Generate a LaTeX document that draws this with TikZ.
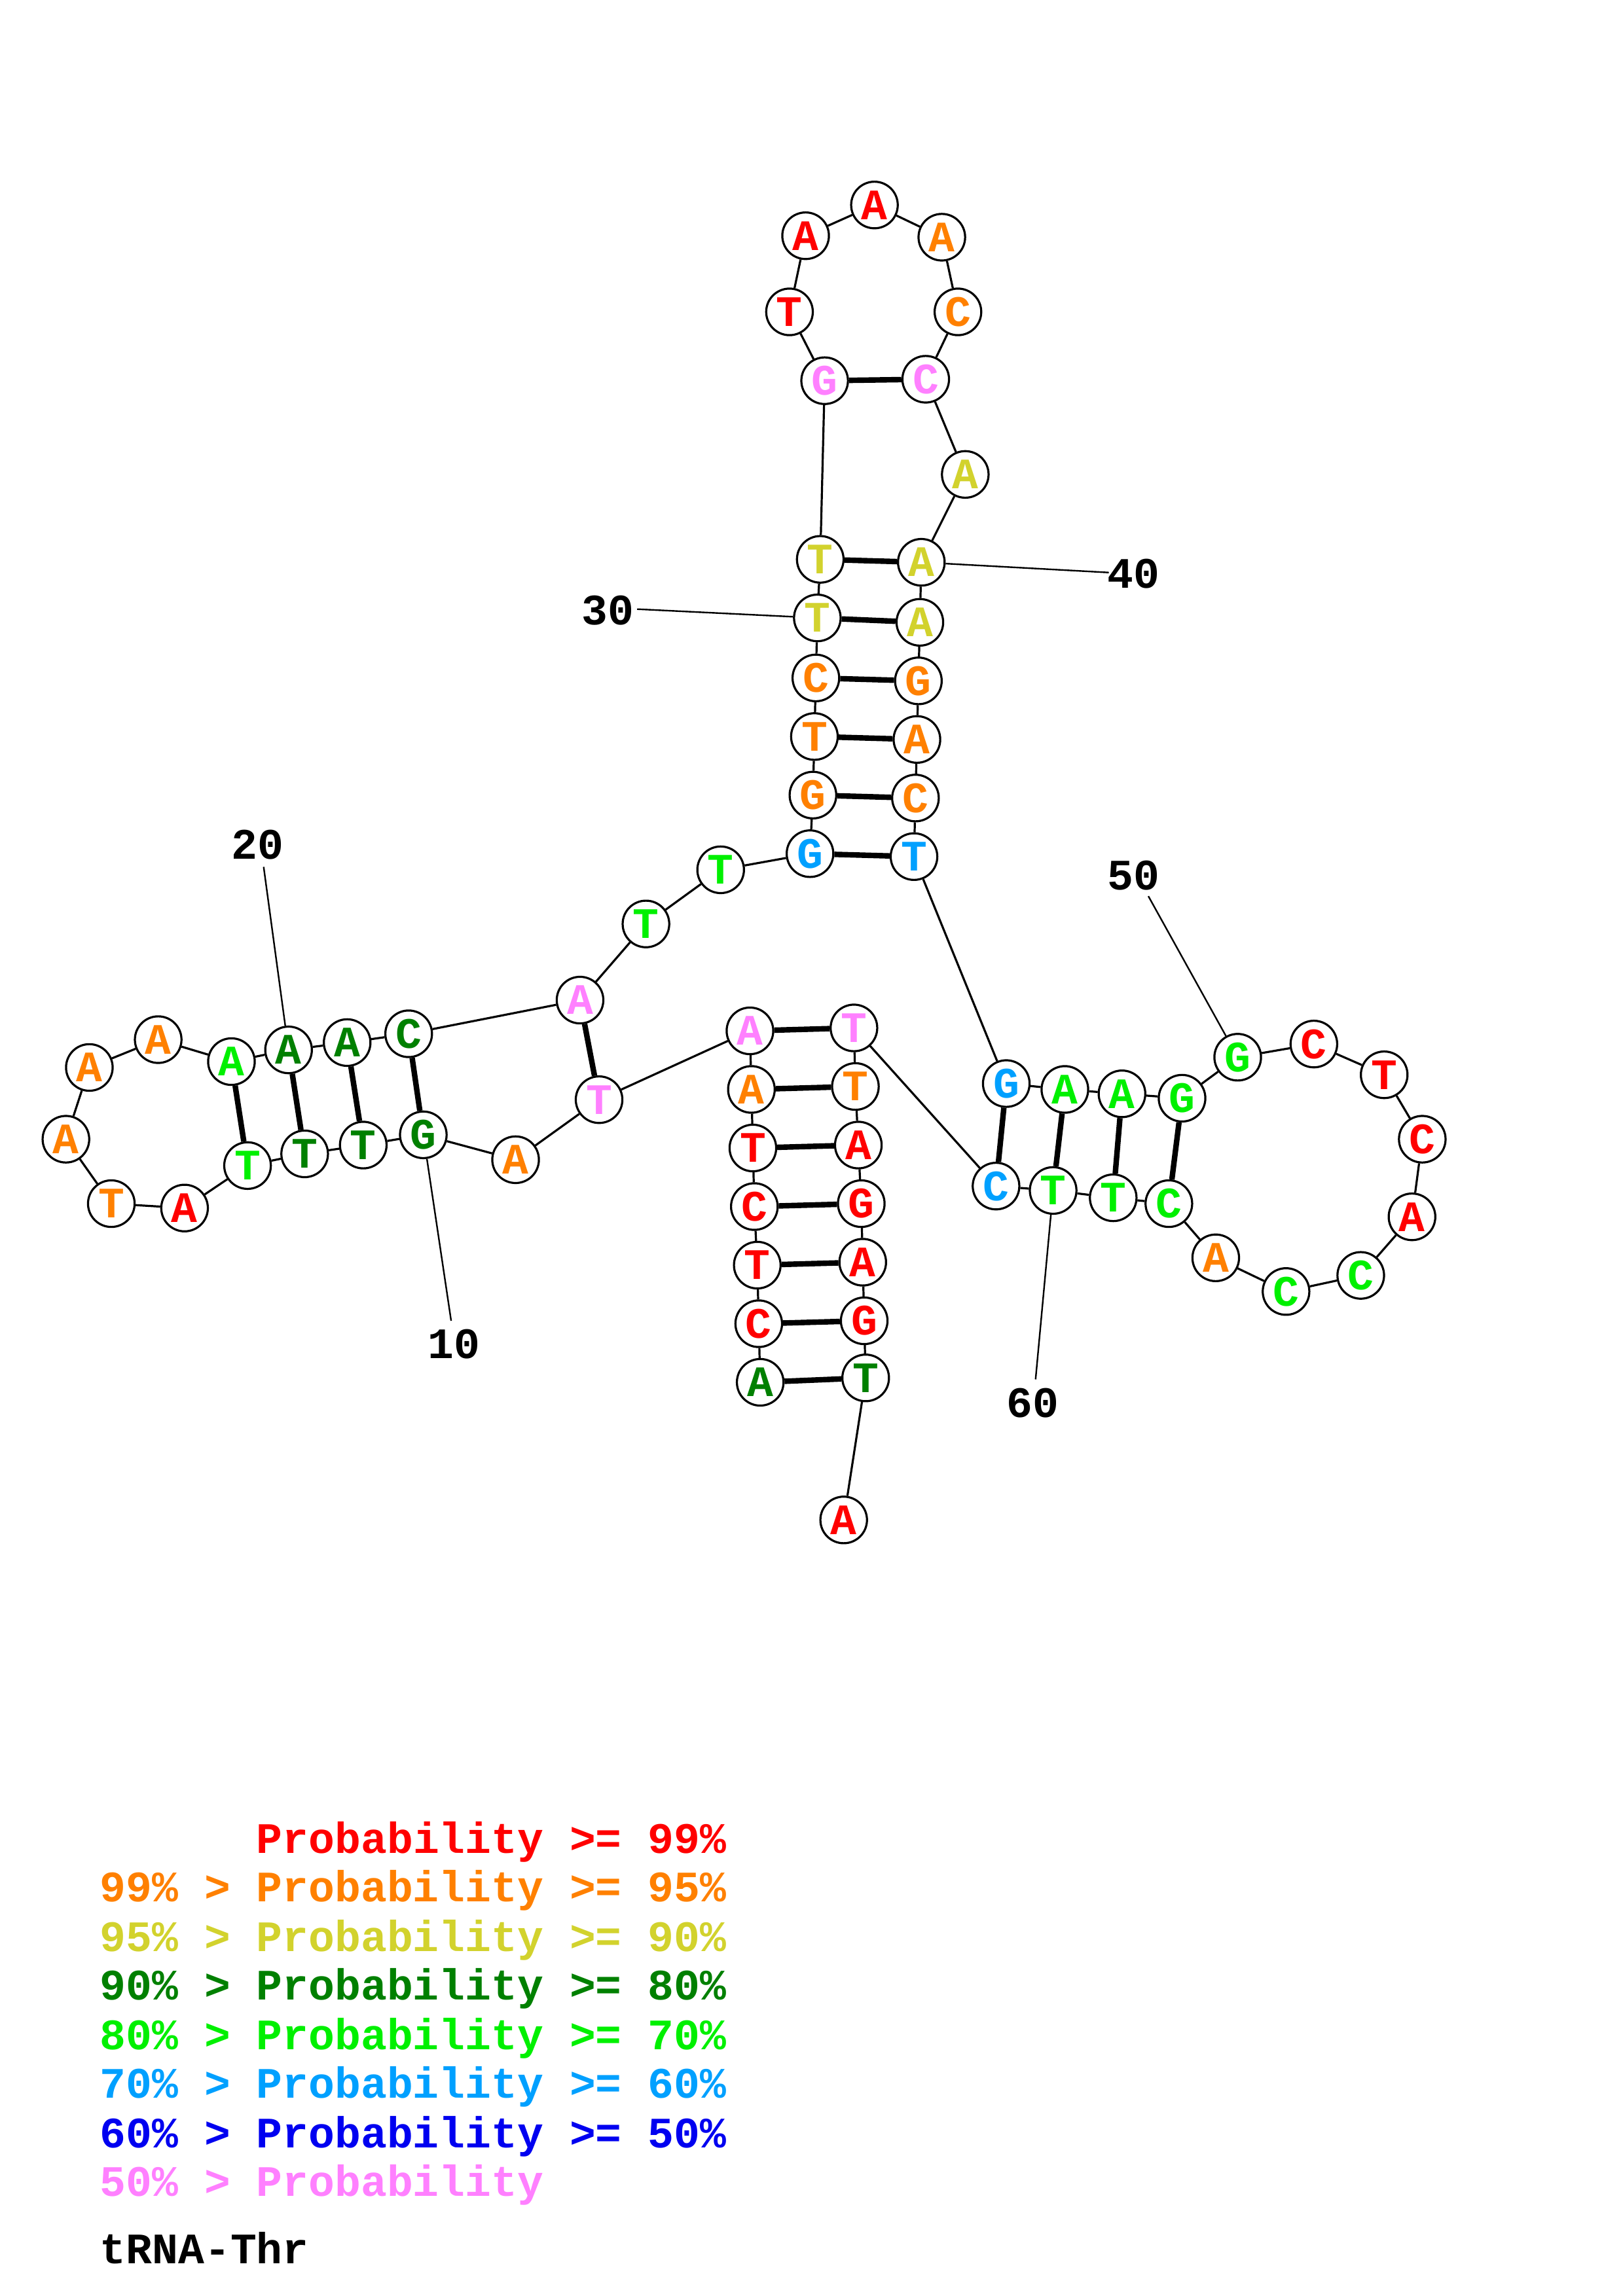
\documentclass[tikz,border=0pt]{standalone}
\usepackage{fontspec}
\setmainfont{Liberation Mono}
\definecolor{cR}{RGB}{255,0,0}
\definecolor{cO}{RGB}{255,128,0}
\definecolor{cY}{RGB}{210,210,45}
\definecolor{cD}{RGB}{0,128,0}
\definecolor{cG}{RGB}{0,240,0}
\definecolor{cL}{RGB}{0,160,255}
\definecolor{cB}{RGB}{0,0,240}
\definecolor{cP}{RGB}{255,128,255}
\newcommand\ntfont{\fontsize{16.6}{16.6}\selectfont\bfseries}
\begin{document}
\begin{tikzpicture}[x=0.55935pt,y=-0.55935pt,
  nt/.style={circle,draw,line width=0.8pt,fill=white,minimum size=17.8pt,inner sep=0pt,font=\ntfont},
  bb/.style={line width=0.8pt},
  bp/.style={line width=2.1pt},
  lbl/.style={line width=0.6pt},
  num/.style={font=\ntfont,inner sep=0pt},
  leg/.style={font=\ntfont,anchor=west,inner sep=0pt}]
\useasboundingbox (0,0) rectangle (1108,1568);
\foreach \i/\c/\t/\x/\y in {
1/cD/A/519/944, 2/cR/C/518/904, 3/cR/T/517/864, 4/cR/C/515/824, 5/cR/T/514/784,
6/cO/A/513/744, 7/cP/A/512/704, 8/cP/T/409/751, 9/cO/A/352/792, 10/cD/G/289/775,
11/cD/T/248/782, 12/cD/T/208/788, 13/cG/T/169/796, 14/cR/A/126/825, 15/cO/T/76/822,
16/cO/A/45/778, 17/cO/A/61/729, 18/cO/A/108/710, 19/cG/A/158/725, 20/cD/A/197/717,
21/cD/A/237/712, 22/cD/C/279/706, 23/cP/A/396/683, 24/cG/T/441/631, 25/cG/T/492/594,
26/cL/G/553/583, 27/cO/G/555/543, 28/cO/T/556/503, 29/cO/C/557/463, 30/cY/T/558/422,
31/cY/T/560/382, 32/cP/G/563/260, 33/cR/T/539/213, 34/cR/A/550/161, 35/cR/A/597/140,
36/cO/A/643/162, 37/cO/C/654/213, 38/cP/C/632/259, 39/cY/A/659/324, 40/cY/A/629/384,
41/cY/A/628/425, 42/cO/G/627/465, 43/cO/A/626/505, 44/cO/C/625/545, 45/cL/T/624/585,
46/cL/G/687/740, 47/cG/A/727/744, 48/cG/A/766/747, 49/cG/G/807/750, 50/cG/G/845/722,
51/cR/C/897/713, 52/cR/T/945/734, 53/cR/C/971/778, 54/cR/A/964/831, 55/cG/C/929/871,
56/cG/C/878/882, 57/cO/A/830/859, 58/cG/C/798/822, 59/cG/T/760/818, 60/cG/T/719/813,
61/cL/C/680/810, 62/cP/T/583/702, 63/cO/T/584/742, 64/cR/A/586/782, 65/cR/G/588/822,
66/cR/A/589/862, 67/cR/G/590/902, 68/cD/T/591/941, 69/cR/A/576/1038}
  \node[nt,text=\c] (n\i) at (\x,\y) {\t};
\foreach \i [evaluate=\i as \j using int(\i+1)] in {1,...,68}
  \draw[bb] (n\i) -- (n\j);
\foreach \a/\b in {1/68,2/67,3/66,4/65,5/64,6/63,7/62,8/23,10/22,11/21,12/20,13/19,
  26/45,27/44,28/43,29/42,30/41,31/40,32/38,46/61,47/60,48/59,49/58}
  \draw[bp] (n\a) -- (n\b);
% number labels
\node[num] (l10) at (310,918) {10};
\node[num] (l20) at (176,577) {20};
\node[num] (l30) at (415,417) {30};
\node[num] (l40) at (774,392) {40};
\node[num] (l50) at (774,598) {50};
\node[num] (l60) at (705,958) {60};
\coordinate (e10) at (308,902);
\coordinate (e20) at (180,592);
\coordinate (e30) at (435,416);
\coordinate (e40) at (757,391);
\coordinate (e50) at (784,612);
\coordinate (e60) at (707,942);
\foreach \k in {10,20,30,40,50,60} \draw[lbl] (n\k) -- (e\k);
% legend
\node[leg,text=cR] (g1) at (68,1258) {~~~~~~Probability~>=~99\%};
\node[leg,text=cO] (g2) at (68,1291) {99\%~>~Probability~>=~95\%};
\node[leg,text=cY] (g3) at (68,1325) {95\%~>~Probability~>=~90\%};
\node[leg,text=cD] (g4) at (68,1358) {90\%~>~Probability~>=~80\%};
\node[leg,text=cG] (g5) at (68,1392) {80\%~>~Probability~>=~70\%};
\node[leg,text=cL] (g6) at (68,1425) {70\%~>~Probability~>=~60\%};
\node[leg,text=cB] (g7) at (68,1459) {60\%~>~Probability~>=~50\%};
\node[leg,text=cP] (g8) at (68,1492) {50\%~>~Probability};
\node[leg,text=black] (g9) at (68,1535) {tRNA-Thr};
\end{tikzpicture}
\end{document}
